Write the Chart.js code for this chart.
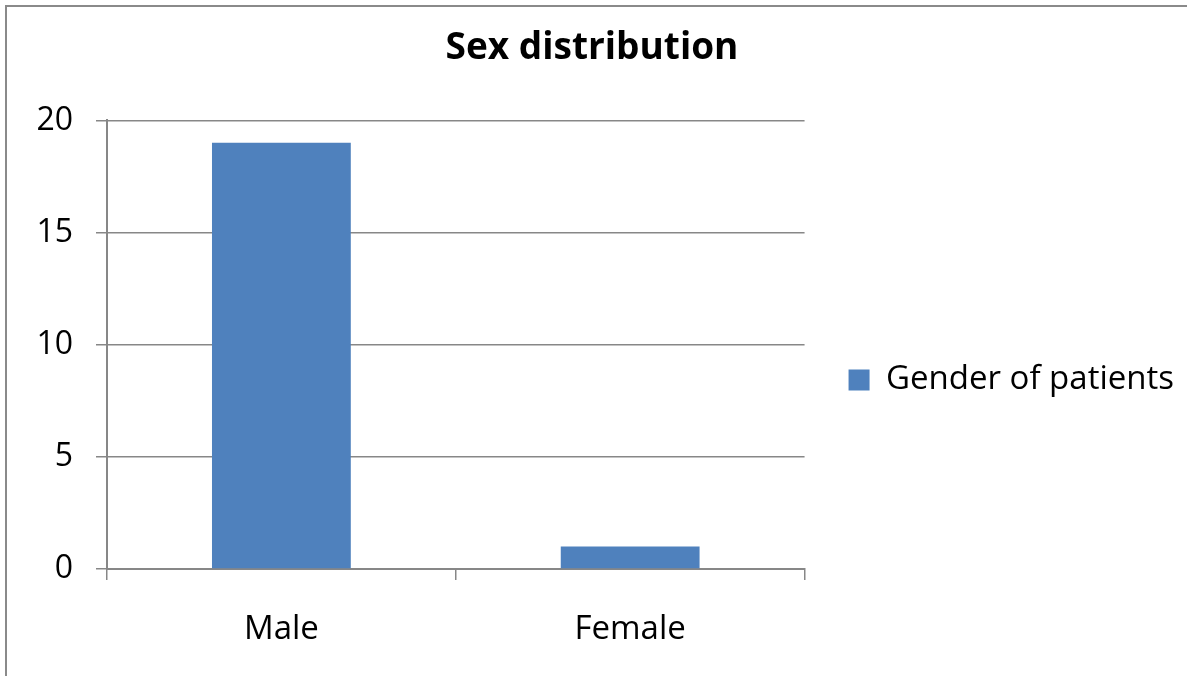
<!DOCTYPE html>
<html>
<head>
<meta charset="utf-8">
<title>Sex distribution</title>
<script src="https://cdn.jsdelivr.net/npm/chart.js@4.4.1/dist/chart.umd.min.js"></script>
<style>
  html, body { margin: 0; padding: 0; background: #fff; }
  #wrap {
    position: relative;
    width: 1187px;
    height: 676px;
    overflow: hidden;
  }
  /* grey frame on the left and top edges */
  #frame {
    position: absolute;
    left: 5px;
    top: 5px;
    right: -10px;
    bottom: -10px;
    border-left: 2px solid #8a8a8a;
    border-top: 2px solid #8a8a8a;
  }
  #salesChart { position: absolute; left: 0; top: 0; }
</style>
</head>
<body>
<div id="wrap">
  <div id="frame"></div>
  <canvas id="salesChart" width="1187" height="676"></canvas>
</div>
<script>
const categories = ['Male', 'Female'];
const seriesLabel = 'Gender of patients';
const patientCounts = [19, 1];
const yTicks = [0, 5, 10, 15, 20];

const axisGrey = '#878787';
const barBlue = '#4F81BD';
const fontFamily = "'Open Sans', 'DejaVu Sans', sans-serif";

const ctx = document.getElementById('salesChart').getContext('2d');
const chart = new Chart(ctx, {
    type: 'bar',
    data: {
        labels: categories,
        datasets: [{
            label: seriesLabel,
            data: patientCounts,
            backgroundColor: barBlue,
            borderWidth: 0,
            barPercentage: 0.398,
            categoryPercentage: 1
        }]
    },
    options: {
        responsive: false,
        animation: false,
        events: [],
        layout: {
            padding: { left: 0, right: 3, top: 0, bottom: 0 }
        },
        scales: {
            x: {
                grid: {
                    display: true,
                    offset: true,
                    drawOnChartArea: false,
                    drawTicks: true,
                    tickLength: 11,
                    color: axisGrey,
                    lineWidth: 1.5
                },
                border: { display: true, color: axisGrey, width: 2 },
                ticks: {
                    color: '#000',
                    padding: 30,
                    font: { family: fontFamily, size: 33 }
                },
                afterFit: (scale) => { scale.height = 107; }
            },
            y: {
                min: yTicks[0],
                max: yTicks[yTicks.length - 1],
                afterBuildTicks: (scale) => {
                    scale.ticks = yTicks.map(v => ({ value: v }));
                },
                grid: {
                    color: axisGrey,
                    lineWidth: 1.5,
                    drawTicks: true,
                    tickLength: 11
                },
                border: { display: true, color: axisGrey, width: 2 },
                ticks: {
                    color: '#000',
                    padding: 23,
                    font: { family: fontFamily, size: 32 }
                },
                afterFit: (scale) => { scale.width = 107; }
            }
        },
        plugins: {
            title: {
                display: true,
                text: 'Sex distribution',
                color: '#000',
                font: { family: fontFamily, size: 37, weight: 'bold', lineHeight: 1.2 },
                padding: { top: 26, bottom: 50 }
            },
            legend: {
                display: true,
                position: 'right',
                align: 'center',
                maxWidth: 400,
                // empty title only pushes the entry down a little
                title: {
                    display: true,
                    text: ' ',
                    font: { size: 10, lineHeight: 1.2 },
                    padding: { top: 36, bottom: 36 }
                },
                labels: {
                    boxWidth: 21,
                    boxHeight: 21,
                    padding: 44,
                    color: '#000',
                    font: { family: fontFamily, size: 33 }
                }
            },
            tooltip: { enabled: false }
        }
    }
});
</script>
</body>
</html>
